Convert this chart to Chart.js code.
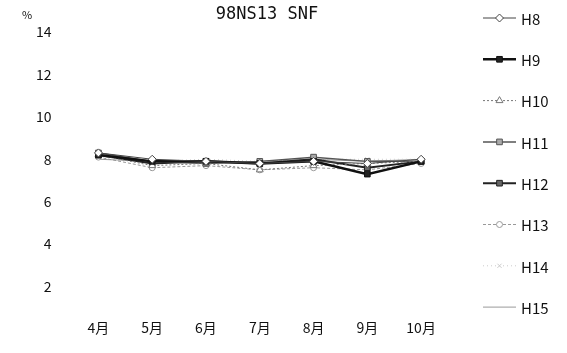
<!DOCTYPE html>
<html><head><meta charset="utf-8">
<script src="https://cdn.jsdelivr.net/npm/chart.js@4"></script>
<style>html,body{margin:0;padding:0;background:#fff}</style>
</head><body>
<canvas id="c" width="567" height="353"></canvas>
<script>
const categories = ['4月','5月','6月','7月','8月','9月','10月'];
const seriesNames = ['H8','H9','H10','H11','H12','H13','H14','H15'];
const H8  = [8.3, 8.0, 7.9, 7.8, 7.9, 7.8, 8.0];
const H9  = [8.2, 7.9, 7.9, 7.8, 7.9, 7.3, 7.9];
const H10 = [8.2, 7.7, 7.8, 7.5, 7.7, 7.8, 7.9];
const H11 = [8.3, 7.9, 7.8, 7.9, 8.1, 7.9, 7.9];
const H12 = [8.2, 7.8, 7.9, 7.8, 8.0, 7.6, 7.9];
const H13 = [8.1, 7.6, 7.7, 7.5, 7.6, 7.5, 7.8];
const H14 = [8.2, 7.9, 8.0, 7.9, 8.0, 8.0, 8.0];
const H15 = [8.0, 7.9, 7.8, 7.9, 8.0, 7.9, 8.0];
const yTicks = [2, 4, 6, 8, 10, 12, 14];
const titleText = '98NS13 SNF';
const unitText = '%';

const values = [H8,H9,H10,H11,H12,H13,H14,H15];
const styles = [
  {color:'#444', width:1,   dash:[],    point:'rectRot',  radius:4, fill:'#fff'},
  {color:'#111', width:2.5, dash:[],    point:'rect',     radius:4, fill:'#222'},
  {color:'#777', width:1,   dash:[2,2], point:'triangle', radius:4, fill:'#fff'},
  {color:'#555', width:1.5, dash:[],    point:'rect',     radius:4, fill:'#aaa'},
  {color:'#222', width:2,   dash:[],    point:'rect',     radius:4, fill:'#666'},
  {color:'#999', width:1,   dash:[3,2], point:'circle',   radius:3, fill:'#fff'},
  {color:'#ccc', width:1,   dash:[1,3], point:'crossRot', radius:3, fill:'#fff'},
  {color:'#999', width:1,   dash:[],    point:false,      radius:0, fill:'#fff'}
];

const datasets = seriesNames.map((n,i)=>({
  label:n, data:values[i],
  borderColor:styles[i].color, borderWidth:styles[i].width, borderDash:styles[i].dash,
  pointStyle:styles[i].point, pointRadius:styles[i].radius,
  pointBackgroundColor:styles[i].fill, pointBorderColor:styles[i].color, pointBorderWidth:1,
  tension:0, fill:false
}));

const font = '"Noto Sans CJK JP", "DejaVu Sans", sans-serif';
const mono = '"DejaVu Sans Mono", monospace';

const extras = {
  id:'extras',
  afterDraw(chart){
    const ctx = chart.ctx;
    ctx.save();
    ctx.fillStyle = '#111';
    ctx.font = '17px ' + mono;
    ctx.textAlign = 'center'; ctx.textBaseline = 'middle';
    ctx.fillText(titleText, 267, 15);
    ctx.font = '11px ' + font;
    ctx.textAlign = 'left';
    ctx.fillText(unitText, 22, 15);
    const x0 = 483, x1 = 516, tx = 521;
    chart.data.datasets.forEach((ds,i)=>{
      const y = 18 + i*41.3;
      ctx.strokeStyle = ds.borderColor; ctx.lineWidth = ds.borderWidth;
      ctx.setLineDash(ds.borderDash);
      ctx.beginPath(); ctx.moveTo(x0,y); ctx.lineTo(x1,y); ctx.stroke();
      ctx.setLineDash([]);
      if (ds.pointStyle) {
        ctx.fillStyle = ds.pointBackgroundColor; ctx.strokeStyle = ds.pointBorderColor; ctx.lineWidth = 1;
        Chart.helpers.drawPoint(ctx, {pointStyle:ds.pointStyle, radius:ds.pointRadius, borderWidth:1, rotation:0}, (x0+x1)/2, y);
      }
      ctx.fillStyle = '#111';
      ctx.font = '15px ' + font;
      ctx.textAlign = 'left'; ctx.textBaseline = 'middle';
      ctx.fillText(ds.label, tx, y+1);
    });
    ctx.restore();
  }
};

new Chart(document.getElementById('c'), {
  type:'line',
  data:{labels:categories, datasets},
  options:{
    responsive:false, animation:false,
    layout:{padding:{top:32, right:119, left:16, bottom:14}},
    plugins:{legend:{display:false}, title:{display:false}, tooltip:{enabled:false}},
    scales:{
      x:{offset:true, grid:{display:false, drawTicks:false}, border:{display:false},
         ticks:{color:'#111', font:{family:font, size:14}, padding:3}},
      y:{min:0.6, max:14, grid:{display:false, drawTicks:false}, border:{display:false},
         afterBuildTicks:s=>{ s.ticks = yTicks.map(v=>({value:v})); },
         ticks:{color:'#111', font:{family:font, size:14}, padding:20}}
    }
  },
  plugins:[extras]
});
</script>
</body></html>
